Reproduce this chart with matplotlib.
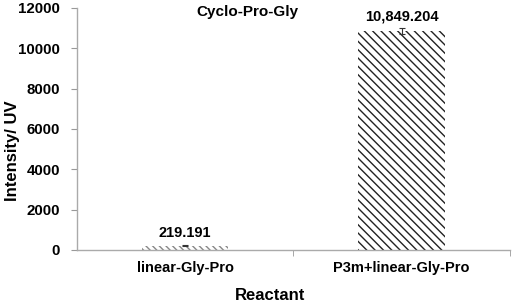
import matplotlib
matplotlib.use("Agg")
import matplotlib.pyplot as plt

plt.rcParams['font.family'] = ['Liberation Sans', 'DejaVu Sans']
plt.rcParams['hatch.linewidth'] = 1.0

categories = ["linear-Gly-Pro", "P3m+linear-Gly-Pro"]
values = [219.191, 10849.204]
errors = [30, 150]
labels = ["219.191", "10,849.204"]
yticks = [0, 2000, 4000, 6000, 8000, 10000, 12000]

fig = plt.figure(figsize=(5.12, 3.03), dpi=100)
ax = fig.add_axes([0.150, 0.175, 0.846, 0.799])

hatch_colors = ["#888888", "#222222"]
for i, (v, e) in enumerate(zip(values, errors)):
    plt.rcParams['hatch.color'] = hatch_colors[i]
    ax.bar(i, v, width=0.4, color="white", edgecolor=hatch_colors[i], linewidth=0,
           hatch="\\\\\\\\\\" if i == 0 else "\\\\\\\\", yerr=e, capsize=2.5,
           error_kw=dict(ecolor="#333333", elinewidth=0.8, capthick=0.8))
    ax.text(i, v + e + 250, labels[i], ha="center", va="bottom",
            fontsize=10.5, fontweight="bold")

ax.set_xlim(-0.5, 1.5)
ax.set_ylim(0, 12000)
ax.set_yticks(yticks)
ax.set_yticklabels([str(t) for t in yticks], fontsize=10.8, fontweight="bold")
ax.set_xticks([0, 1])
ax.set_xticklabels(categories, fontsize=10.5, fontweight="bold")
ax.set_xticks([0.5, 1.5], minor=True)
ax.tick_params(axis="x", which="major", length=0, pad=8)
ax.tick_params(axis="x", which="minor", length=4, color="#999999")
ax.tick_params(axis="y", length=4, color="#999999", pad=8)

for s in ["top", "right"]:
    ax.spines[s].set_visible(False)
for s in ["left", "bottom"]:
    ax.spines[s].set_color("#aaaaaa")
    ax.spines[s].set_linewidth(1.0)

ax.set_ylabel("Intensity/ UV", fontsize=12, fontweight="bold", va="center")
ax.yaxis.set_label_coords(-0.148, 0.41)
ax.set_xlabel("Reactant", fontsize=12, fontweight="bold")
ax.xaxis.set_label_coords(0.447, -0.155)
ax.text(0.29, 11800, "Cyclo-Pro-Gly", ha="center", va="center",
        fontsize=11, fontweight="bold")

fig.savefig("out.png", dpi=100)
